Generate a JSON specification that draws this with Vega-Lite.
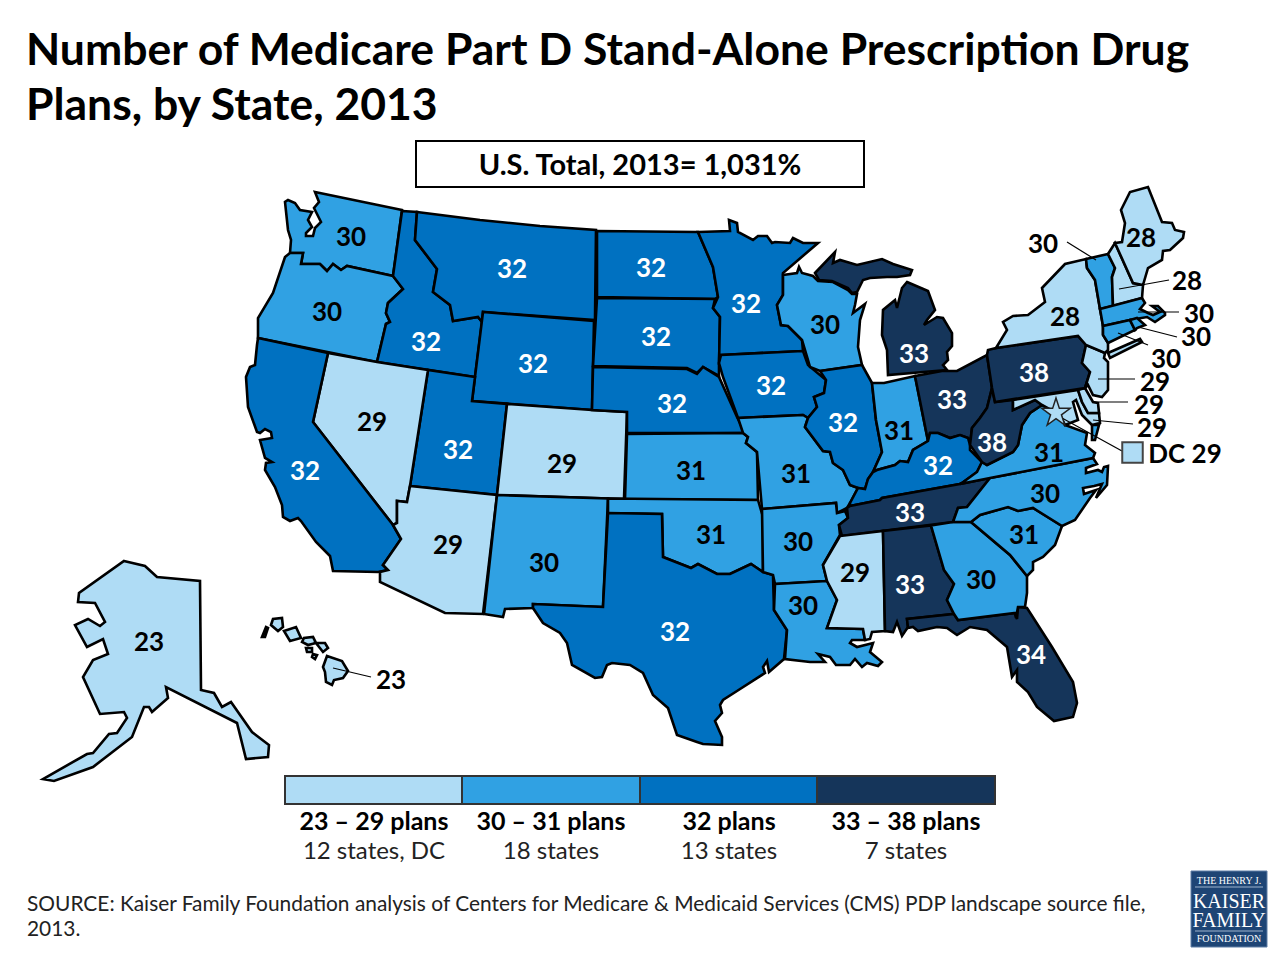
{"$schema":"https://vega.github.io/schema/vega-lite/v6.json","width":1280,"height":820,"padding":{"left":0,"right":0,"top":140,"bottom":0},"autosize":"none","background":"white",
"config":{"view":{"stroke":null}},
"title":{"text":["Number of Medicare Part D Stand-Alone Prescription Drug","Plans, by State, 2013"],"anchor":"start","frame":"group","dx":26,"offset":11,"fontSize":44.5,"font":"Lato","fontWeight":"bold","color":"#000000","lineHeight":55},
"resolve":{"scale":{"color":"independent"}},
"datasets":{
"states":[
{"type":"Feature","properties":{"state":"WA","group":"30 – 31 plans"},"geometry":{"type":"Polygon","coordinates":[[[315,192],[402,210],[393,276],[347,266],[341,270],[333,264],[327,271],[320,264],[301,264],[303,253],[290,253],[291,240],[288,230],[285,202],[288,200],[295,203],[300,210],[312,212],[308,220],[312,227],[306,233],[306,236],[313,236],[315,228],[321,222],[314,208],[319,202],[315,192]]]}},
{"type":"Feature","properties":{"state":"OR","group":"30 – 31 plans"},"geometry":{"type":"Polygon","coordinates":[[[290,253],[303,253],[301,264],[320,264],[327,271],[333,264],[341,270],[347,266],[393,276],[403,289],[388,303],[386,313],[390,322],[386,324],[377,362],[258,338],[258,318],[273,293],[285,257],[290,253]]]}},
{"type":"Feature","properties":{"state":"ID","group":"32 plans"},"geometry":{"type":"Polygon","coordinates":[[[402,211],[417,212],[415,240],[437,269],[433,292],[450,305],[453,321],[478,317],[482,322],[475,377],[377,362],[386,324],[390,322],[386,313],[388,303],[403,289],[393,276],[402,211]]]}},
{"type":"Feature","properties":{"state":"MT","group":"32 plans"},"geometry":{"type":"Polygon","coordinates":[[[417,212],[480,220],[540,226],[596,230],[595,320],[483,312],[482,322],[478,317],[453,321],[450,305],[433,292],[437,269],[415,240],[417,212]]]}},
{"type":"Feature","properties":{"state":"WY","group":"32 plans"},"geometry":{"type":"Polygon","coordinates":[[[483,312],[594,321],[592,410],[472,401],[483,312]]]}},
{"type":"Feature","properties":{"state":"UT","group":"32 plans"},"geometry":{"type":"Polygon","coordinates":[[[428,370],[475,377],[472,401],[507,404],[497,495],[410,486],[428,370]]]}},
{"type":"Feature","properties":{"state":"NV","group":"23 – 29 plans"},"geometry":{"type":"Polygon","coordinates":[[[328,353],[377,362],[428,370],[410,486],[407,502],[397,501],[397,523],[393,525],[313,422],[328,353]]]}},
{"type":"Feature","properties":{"state":"CA","group":"32 plans"},"geometry":{"type":"Polygon","coordinates":[[[258,338],[328,353],[313,422],[393,525],[401,539],[383,565],[388,570],[378,572],[333,571],[330,556],[316,542],[301,521],[298,518],[290,521],[283,517],[282,505],[275,487],[265,470],[266,463],[272,462],[265,458],[260,440],[272,438],[271,432],[265,429],[260,433],[257,432],[248,407],[246,377],[250,367],[255,365],[257,345],[258,338]]]}},
{"type":"Feature","properties":{"state":"AZ","group":"23 – 29 plans"},"geometry":{"type":"Polygon","coordinates":[[[410,486],[497,495],[483,614],[445,613],[380,582],[380,572],[388,570],[383,565],[401,539],[393,525],[397,523],[397,501],[407,502],[410,486]]]}},
{"type":"Feature","properties":{"state":"CO","group":"23 – 29 plans"},"geometry":{"type":"Polygon","coordinates":[[[507,404],[592,410],[627,412],[624,499],[497,495],[507,404]]]}},
{"type":"Feature","properties":{"state":"NM","group":"30 – 31 plans"},"geometry":{"type":"Polygon","coordinates":[[[497,495],[608,498.5],[603,607],[533,604],[533,608],[505,609],[503,617],[484,614],[497,495]]]}},
{"type":"Feature","properties":{"state":"ND","group":"32 plans"},"geometry":{"type":"Polygon","coordinates":[[[597,231],[698,232],[713,267],[718,297],[715,299],[597,297],[597,231]]]}},
{"type":"Feature","properties":{"state":"SD","group":"32 plans"},"geometry":{"type":"Polygon","coordinates":[[[597,298],[715,299],[713,308],[720,317],[719,365],[719,376],[703,367],[697,373],[687,368],[593,366],[597,298]]]}},
{"type":"Feature","properties":{"state":"NE","group":"32 plans"},"geometry":{"type":"Polygon","coordinates":[[[593,367],[687,369],[697,374],[703,367],[719,377],[737,417],[745,433],[627,433],[627,412],[592,410],[593,367]]]}},
{"type":"Feature","properties":{"state":"KS","group":"30 – 31 plans"},"geometry":{"type":"Polygon","coordinates":[[[627,434],[743,433],[748,437],[746,443],[757,452],[758,500],[625,499],[627,434]]]}},
{"type":"Feature","properties":{"state":"OK","group":"30 – 31 plans"},"geometry":{"type":"Polygon","coordinates":[[[608,498.5],[758,500],[763,517],[763,572],[751,564],[730,574],[717,574],[698,564],[691,568],[663,557],[662,514],[608,513],[608,498.5]]]}},
{"type":"Feature","properties":{"state":"TX","group":"32 plans"},"geometry":{"type":"Polygon","coordinates":[[[608,513],[662,514],[663,557],[691,568],[698,564],[717,574],[730,574],[751,564],[763,572],[773,575],[774,610],[787,630],[784,659],[769,672],[767,661],[763,667],[765,673],[737,691],[723,700],[720,705],[722,713],[715,721],[722,737],[722,745],[703,744],[697,742],[677,735],[668,708],[653,695],[643,673],[630,665],[612,663],[607,665],[602,677],[595,678],[572,665],[567,643],[560,633],[543,623],[533,608],[533,604],[603,607],[608,513]]]}},
{"type":"Feature","properties":{"state":"MN","group":"32 plans"},"geometry":{"type":"Polygon","coordinates":[[[698,232],[730,231],[729,220],[737,223],[738,232],[753,240],[758,236],[767,236],[772,243],[775,242],[790,243],[793,238],[803,243],[818,243],[783,273],[783,295],[777,305],[781,325],[788,326],[802,340],[803,351],[721,355],[719,365],[720,317],[713,308],[718,297],[713,267],[698,232]]]}},
{"type":"Feature","properties":{"state":"IA","group":"32 plans"},"geometry":{"type":"Polygon","coordinates":[[[721,355],[803,351],[808,365],[826,380],[824,393],[814,397],[817,407],[808,418],[803,415],[738,418],[723,377],[719,363],[721,355]]]}},
{"type":"Feature","properties":{"state":"MO","group":"30 – 31 plans"},"geometry":{"type":"Polygon","coordinates":[[[738,418],[803,415],[808,418],[805,427],[823,451],[830,452],[833,463],[843,470],[850,485],[858,488],[850,503],[847,508],[837,513],[836,503],[762,509],[757,452],[746,443],[748,437],[743,433],[738,418]]]}},
{"type":"Feature","properties":{"state":"AR","group":"30 – 31 plans"},"geometry":{"type":"Polygon","coordinates":[[[762,509],[836,503],[837,513],[845,511],[848,518],[839,525],[840,535],[823,565],[827,581],[775,584],[773,575],[763,572],[762,509]]]}},
{"type":"Feature","properties":{"state":"LA","group":"30 – 31 plans"},"geometry":{"type":"Polygon","coordinates":[[[775,584],[827,581],[837,600],[827,628],[863,629],[865,640],[852,640],[850,643],[857,647],[873,643],[870,652],[882,662],[878,666],[867,663],[862,667],[855,659],[850,665],[836,665],[830,657],[818,654],[825,662],[810,662],[785,659],[787,630],[774,610],[775,584]]]}},
{"type":"Feature","properties":{"state":"WI","group":"30 – 31 plans"},"geometry":{"type":"Polygon","coordinates":[[[783,275],[797,273],[799,267],[802,273],[813,276],[818,281],[833,282],[848,290],[852,294],[857,294],[855,305],[853,313],[865,304],[860,320],[858,347],[862,365],[820,371],[810,367],[808,360],[802,340],[788,326],[781,325],[777,305],[783,295],[783,275]]]}},
{"type":"Feature","properties":{"state":"IL","group":"32 plans"},"geometry":{"type":"Polygon","coordinates":[[[820,371],[862,365],[872,383],[876,420],[882,452],[873,472],[868,479],[865,489],[858,488],[850,485],[843,470],[833,463],[830,452],[823,451],[805,427],[808,418],[817,407],[814,397],[824,393],[826,380],[820,371]]]}},
{"type":"Feature","properties":{"state":"IN","group":"30 – 31 plans"},"geometry":{"type":"Polygon","coordinates":[[[872,383],[884,383],[915,376],[928,441],[913,450],[908,462],[900,461],[895,465],[877,470],[873,472],[882,452],[876,420],[872,383]]]}},
{"type":"Feature","properties":{"state":"OH","group":"33 – 38 plans"},"geometry":{"type":"Polygon","coordinates":[[[915,376],[942,371],[957,371],[987,355],[992,388],[989,400],[987,408],[980,418],[972,428],[970,445],[968,438],[960,435],[950,438],[938,433],[930,433],[928,441],[915,376]]]}},
{"type":"Feature","properties":{"state":"MI","group":"33 – 38 plans"},"geometry":{"type":"MultiPolygon","coordinates":[[[[907,282],[928,291],[935,310],[927,320],[924,325],[937,317],[943,318],[952,333],[952,346],[947,352],[948,360],[943,365],[947,370],[888,375],[887,350],[882,335],[883,310],[895,300],[897,308],[902,288],[907,282]]],[[[815,273],[835,252],[833,263],[840,260],[857,265],[882,259],[893,264],[912,270],[910,275],[897,277],[887,277],[870,278],[863,280],[857,292],[852,293],[848,288],[832,281],[819,280],[815,273]]]]}},
{"type":"Feature","properties":{"state":"KY","group":"32 plans"},"geometry":{"type":"Polygon","coordinates":[[[850,503],[858,488],[865,489],[868,479],[873,472],[877,470],[895,465],[900,461],[908,462],[913,450],[928,441],[930,433],[938,433],[950,438],[960,435],[968,438],[970,445],[970,450],[982,462],[977,472],[962,483],[960,484],[882,498],[880,500],[850,506],[850,503]]]}},
{"type":"Feature","properties":{"state":"TN","group":"33 – 38 plans"},"geometry":{"type":"Polygon","coordinates":[[[850,506],[880,500],[882,498],[960,484],[990,478],[967,507],[958,508],[953,522],[842,536],[839,525],[848,518],[847,508],[850,506]]]}},
{"type":"Feature","properties":{"state":"MS","group":"23 – 29 plans"},"geometry":{"type":"Polygon","coordinates":[[[840,536],[883,531],[885,631],[872,632],[870,639],[865,640],[863,629],[827,628],[837,600],[827,581],[823,565],[840,536]]]}},
{"type":"Feature","properties":{"state":"AL","group":"33 – 38 plans"},"geometry":{"type":"Polygon","coordinates":[[[883,531],[931,525.5],[944,570],[954,584],[947,600],[954,614],[907,619],[908,627],[902,636],[897,622],[893,632],[885,631],[883,531]]]}},
{"type":"Feature","properties":{"state":"FL","group":"33 – 38 plans"},"geometry":{"type":"Polygon","coordinates":[[[907,619],[954,614],[958,620],[1015,613],[1017,619],[1018,607],[1027,608],[1052,647],[1073,682],[1077,703],[1073,717],[1054,721],[1037,707],[1028,692],[1017,682],[1017,670],[1012,677],[1007,647],[987,630],[970,627],[957,635],[947,628],[937,627],[918,631],[913,627],[908,628],[907,619]]]}},
{"type":"Feature","properties":{"state":"GA","group":"30 – 31 plans"},"geometry":{"type":"Polygon","coordinates":[[[931,525.5],[953,522],[971,522],[1010,555],[1027,576],[1027,593],[1025,607],[1018,607],[1016,618],[1015,613],[958,620],[954,614],[947,600],[954,584],[944,570],[931,525.5]]]}},
{"type":"Feature","properties":{"state":"SC","group":"30 – 31 plans"},"geometry":{"type":"Polygon","coordinates":[[[971,522],[980,515],[1008,507],[1018,511],[1033,508],[1062,526],[1055,545],[1043,557],[1033,562],[1033,570],[1027,576],[1010,555],[971,522]]]}},
{"type":"Feature","properties":{"state":"NC","group":"30 – 31 plans"},"geometry":{"type":"Polygon","coordinates":[[[953,522],[958,508],[967,507],[990,478],[1093,458],[1097,464],[1086,468],[1086,473],[1098,470],[1102,472],[1104,467],[1108,466],[1107,485],[1096,498],[1102,484],[1094,486],[1083,488],[1084,494],[1096,490],[1090,498],[1075,520],[1062,526],[1033,508],[1018,511],[1008,507],[980,515],[971,522],[953,522]]]}},
{"type":"Feature","properties":{"state":"VA","group":"30 – 31 plans"},"geometry":{"type":"MultiPolygon","coordinates":[[[[960,484],[962,483],[977,472],[982,462],[987,465],[1013,452],[1018,445],[1022,425],[1030,413],[1042,405],[1060,415],[1065,425],[1087,433],[1085,445],[1095,453],[1093,458],[990,478],[960,484]]],[[[1092,425],[1099,425],[1095,440],[1092,440],[1092,425]]]]}},
{"type":"Feature","properties":{"state":"WV","group":"33 – 38 plans"},"geometry":{"type":"Polygon","coordinates":[[[992,388],[995,402],[1013,400],[1013,410],[1035,400],[1042,405],[1030,413],[1022,425],[1018,445],[1013,452],[987,465],[982,462],[970,445],[972,428],[980,418],[987,408],[989,400],[992,388]]]}},
{"type":"Feature","properties":{"state":"MD","group":"23 – 29 plans"},"geometry":{"type":"Polygon","coordinates":[[[1013,400],[1078,390],[1082,402],[1088,413],[1099,413],[1100,423],[1092,425],[1082,415],[1076,400],[1073,402],[1078,420],[1065,425],[1060,415],[1042,405],[1035,400],[1013,410],[1013,400]]]}},
{"type":"Feature","properties":{"state":"DE","group":"23 – 29 plans"},"geometry":{"type":"Polygon","coordinates":[[[1078,390],[1085,388],[1093,402],[1098,403],[1099,413],[1088,413],[1082,402],[1078,390]]]}},
{"type":"Feature","properties":{"state":"PA","group":"33 – 38 plans"},"geometry":{"type":"Polygon","coordinates":[[[987,355],[988,350],[996,348],[1078,336],[1086,345],[1082,363],[1090,372],[1085,388],[995,402],[992,388],[987,355]]]}},
{"type":"Feature","properties":{"state":"NJ","group":"23 – 29 plans"},"geometry":{"type":"Polygon","coordinates":[[[1086,345],[1105,353],[1104,358],[1108,362],[1108,390],[1102,397],[1093,395],[1088,385],[1085,388],[1090,372],[1082,363],[1086,345]]]}},
{"type":"Feature","properties":{"state":"NY","group":"23 – 29 plans"},"geometry":{"type":"MultiPolygon","coordinates":[[[[996,348],[1007,330],[1003,322],[1013,316],[1028,315],[1045,302],[1042,288],[1065,264],[1086,259],[1087,268],[1095,280],[1100,309],[1103,326],[1103,335],[1108,343],[1108,350],[1105,353],[1086,345],[1078,336],[996,348]]],[[[1108,353],[1140,339],[1142,342],[1110,358],[1108,353]]]]}},
{"type":"Feature","properties":{"state":"VT","group":"30 – 31 plans"},"geometry":{"type":"Polygon","coordinates":[[[1086,259],[1108,254],[1115,268],[1112,277],[1113,306],[1100,309],[1095,280],[1087,268],[1086,259]]]}},
{"type":"Feature","properties":{"state":"NH","group":"23 – 29 plans"},"geometry":{"type":"Polygon","coordinates":[[[1108,254],[1115,243],[1133,283],[1143,285],[1142,298],[1113,306],[1112,277],[1115,268],[1108,254]]]}},
{"type":"Feature","properties":{"state":"ME","group":"23 – 29 plans"},"geometry":{"type":"Polygon","coordinates":[[[1115,243],[1122,242],[1125,223],[1121,210],[1130,192],[1148,187],[1162,222],[1172,223],[1175,230],[1184,232],[1183,238],[1170,250],[1163,251],[1162,260],[1148,268],[1143,285],[1133,283],[1115,243]]]}},
{"type":"Feature","properties":{"state":"MA","group":"30 – 31 plans"},"geometry":{"type":"Polygon","coordinates":[[[1100,309],[1142,298],[1145,303],[1140,309],[1148,313],[1153,315],[1160,312],[1152,306],[1158,306],[1165,313],[1165,315],[1155,322],[1147,317],[1130,320],[1103,326],[1100,309]]]}},
{"type":"Feature","properties":{"state":"CT","group":"30 – 31 plans"},"geometry":{"type":"Polygon","coordinates":[[[1103,326],[1130,320],[1135,330],[1108,343],[1103,335],[1103,326]]]}},
{"type":"Feature","properties":{"state":"RI","group":"30 – 31 plans"},"geometry":{"type":"Polygon","coordinates":[[[1130,320],[1137,318],[1145,325],[1137,328],[1135,330],[1130,320]]]}},
{"type":"Feature","properties":{"state":"AK","group":"23 – 29 plans"},"geometry":{"type":"Polygon","coordinates":[[[124,561],[145,566],[157,577],[200,581],[201,690],[214,693],[222,707],[231,702],[252,732],[269,745],[268,757],[246,759],[237,723],[166,687],[168,698],[152,712],[149,707],[144,707],[132,737],[93,767],[54,781],[43,779],[87,754],[93,753],[109,734],[117,733],[127,718],[124,712],[100,714],[83,677],[93,660],[108,654],[103,639],[87,647],[75,625],[88,619],[100,626],[105,622],[95,603],[78,602],[79,593],[124,561]]]}},
{"type":"Feature","properties":{"state":"HI","group":"23 – 29 plans"},"geometry":{"type":"MultiPolygon","coordinates":[[[[262,637],[266,627],[268,628],[265,637],[262,637]]],[[[271,625],[273,619],[282,618],[283,627],[278,631],[271,625]]],[[[284,631],[296,627],[301,638],[290,641],[284,631]]],[[[302,642],[304,638],[313,637],[316,643],[308,645],[302,642]]],[[[316,643],[325,643],[328,648],[323,652],[316,643]]],[[[306,648],[312,648],[312,652],[307,652],[306,648]]],[[[313,654],[317,655],[315,659],[312,657],[313,654]]],[[[327,656],[342,661],[348,671],[343,678],[334,680],[332,685],[326,682],[325,672],[323,667],[327,656]]]]}}
],
"legendBar":[
{"type":"Feature","properties":{"group":"23 – 29 plans"},"geometry":{"type":"Polygon","coordinates":[[[285,776],[462,776],[462,804],[285,804],[285,776]]]}},
{"type":"Feature","properties":{"group":"30 – 31 plans"},"geometry":{"type":"Polygon","coordinates":[[[462,776],[640,776],[640,804],[462,804],[462,776]]]}},
{"type":"Feature","properties":{"group":"32 plans"},"geometry":{"type":"Polygon","coordinates":[[[640,776],[817,776],[817,804],[640,804],[640,776]]]}},
{"type":"Feature","properties":{"group":"33 – 38 plans"},"geometry":{"type":"Polygon","coordinates":[[[817,776],[995,776],[995,804],[817,804],[817,776]]]}}
],
"leaders":[
{"type":"Feature","properties":{"state":"VT"},"geometry":{"type":"LineString","coordinates":[[1067,242],[1096,260]]}},
{"type":"Feature","properties":{"state":"NH"},"geometry":{"type":"LineString","coordinates":[[1169,280],[1119,289]]}},
{"type":"Feature","properties":{"state":"MA"},"geometry":{"type":"LineString","coordinates":[[1179,312],[1138,312]]}},
{"type":"Feature","properties":{"state":"RI"},"geometry":{"type":"LineString","coordinates":[[1177,337],[1138,327]]}},
{"type":"Feature","properties":{"state":"CT"},"geometry":{"type":"LineString","coordinates":[[1148,345],[1118,333]]}},
{"type":"Feature","properties":{"state":"NJ"},"geometry":{"type":"LineString","coordinates":[[1135,379],[1098,379]]}},
{"type":"Feature","properties":{"state":"DE"},"geometry":{"type":"LineString","coordinates":[[1128,402],[1092,402]]}},
{"type":"Feature","properties":{"state":"MD"},"geometry":{"type":"LineString","coordinates":[[1133,424],[1093,420]]}},
{"type":"Feature","properties":{"state":"DC"},"geometry":{"type":"LineString","coordinates":[[1122,451],[1062,418]]}},
{"type":"Feature","properties":{"state":"HI"},"geometry":{"type":"LineString","coordinates":[[371,677],[333,668]]}}
],
"labels":[
{"state":"WA","plans":"30","group":"30 – 31 plans","lon":351,"lat":236},{"state":"OR","plans":"30","group":"30 – 31 plans","lon":327,"lat":311},{"state":"ID","plans":"32","group":"32 plans","lon":426,"lat":341},{"state":"MT","plans":"32","group":"32 plans","lon":512,"lat":268},{"state":"ND","plans":"32","group":"32 plans","lon":651,"lat":267},{"state":"MN","plans":"32","group":"32 plans","lon":746,"lat":303},{"state":"WI","plans":"30","group":"30 – 31 plans","lon":825,"lat":324},{"state":"WY","plans":"32","group":"32 plans","lon":533,"lat":363},{"state":"SD","plans":"32","group":"32 plans","lon":656,"lat":336},{"state":"NE","plans":"32","group":"32 plans","lon":672,"lat":403},{"state":"IA","plans":"32","group":"32 plans","lon":771,"lat":385},{"state":"IL","plans":"32","group":"32 plans","lon":843,"lat":422},{"state":"IN","plans":"31","group":"30 – 31 plans","lon":899,"lat":430},{"state":"OH","plans":"33","group":"33 – 38 plans","lon":952,"lat":399},{"state":"MI","plans":"33","group":"33 – 38 plans","lon":914,"lat":353},{"state":"PA","plans":"38","group":"33 – 38 plans","lon":1034,"lat":372},{"state":"WV","plans":"38","group":"33 – 38 plans","lon":992,"lat":442},{"state":"VA","plans":"31","group":"30 – 31 plans","lon":1049,"lat":452},{"state":"NC","plans":"30","group":"30 – 31 plans","lon":1045,"lat":493},{"state":"SC","plans":"31","group":"30 – 31 plans","lon":1024,"lat":534},{"state":"GA","plans":"30","group":"30 – 31 plans","lon":981,"lat":579},{"state":"FL","plans":"34","group":"33 – 38 plans","lon":1031,"lat":654},{"state":"AL","plans":"33","group":"33 – 38 plans","lon":910,"lat":584},{"state":"MS","plans":"29","group":"23 – 29 plans","lon":855,"lat":572},{"state":"TN","plans":"33","group":"33 – 38 plans","lon":910,"lat":512},{"state":"KY","plans":"32","group":"32 plans","lon":938,"lat":465},{"state":"MO","plans":"31","group":"30 – 31 plans","lon":796,"lat":473},{"state":"AR","plans":"30","group":"30 – 31 plans","lon":798,"lat":541},{"state":"LA","plans":"30","group":"30 – 31 plans","lon":803,"lat":605},{"state":"TX","plans":"32","group":"32 plans","lon":675,"lat":631},{"state":"OK","plans":"31","group":"30 – 31 plans","lon":711,"lat":534},{"state":"KS","plans":"31","group":"30 – 31 plans","lon":691,"lat":470},{"state":"NM","plans":"30","group":"30 – 31 plans","lon":544,"lat":562},{"state":"CO","plans":"29","group":"23 – 29 plans","lon":562,"lat":463},{"state":"AZ","plans":"29","group":"23 – 29 plans","lon":448,"lat":544},{"state":"UT","plans":"32","group":"32 plans","lon":458,"lat":449},{"state":"NV","plans":"29","group":"23 – 29 plans","lon":372,"lat":421},{"state":"CA","plans":"32","group":"32 plans","lon":305,"lat":470},{"state":"AK","plans":"23","group":"23 – 29 plans","lon":149,"lat":641},{"state":"HI","plans":"23","group":"23 – 29 plans","lon":391,"lat":679},{"state":"NY","plans":"28","group":"23 – 29 plans","lon":1065,"lat":316},{"state":"ME","plans":"28","group":"23 – 29 plans","lon":1141,"lat":237},{"state":"NH","plans":"28","group":"23 – 29 plans","lon":1187,"lat":280},{"state":"VT","plans":"30","group":"30 – 31 plans","lon":1043,"lat":243},{"state":"MA","plans":"30","group":"30 – 31 plans","lon":1199,"lat":313},{"state":"RI","plans":"30","group":"30 – 31 plans","lon":1196,"lat":336},{"state":"CT","plans":"30","group":"30 – 31 plans","lon":1166,"lat":358},{"state":"NJ","plans":"29","group":"23 – 29 plans","lon":1155,"lat":381},{"state":"DE","plans":"29","group":"23 – 29 plans","lon":1149,"lat":404},{"state":"MD","plans":"29","group":"23 – 29 plans","lon":1152,"lat":427},{"state":"DC","plans":"DC 29","group":"23 – 29 plans","lon":1185,"lat":453}
],
"legendLabels":[
{"plans":"23 – 29 plans","count":"12 states, DC","lon":374,"lat1":822,"lat2":852},{"plans":"30 – 31 plans","count":"18 states","lon":551,"lat1":822,"lat2":852},{"plans":"32 plans","count":"13 states","lon":729,"lat1":822,"lat2":852},{"plans":"33 – 38 plans","count":"7 states","lon":906,"lat1":822,"lat2":852}
]
},
"encoding":{},
"layer":[
{"data":{"name":"states"},"projection":{"type":"identity","scale":1,"translate":[0,-140]},"mark":{"type":"geoshape","stroke":"#000000","strokeWidth":2.6,"strokeJoin":"miter"},"encoding":{"color":{"field":"properties.group","type":"nominal","legend":null,"scale":{"domain":["23 – 29 plans","30 – 31 plans","32 plans","33 – 38 plans"],"range":["#AFDCF5","#30A1E3","#0071C1","#15355A"]}}}},
{"data":{"name":"legendBar"},"projection":{"type":"identity","scale":1,"translate":[0,-140]},"mark":{"type":"geoshape","stroke":"#333333","strokeWidth":2},"encoding":{"color":{"field":"properties.group","type":"nominal","legend":null,"scale":{"domain":["23 – 29 plans","30 – 31 plans","32 plans","33 – 38 plans"],"range":["#AFDCF5","#30A1E3","#0071C1","#15355A"]}}}},
{"data":{"name":"leaders"},"projection":{"type":"identity","scale":1,"translate":[0,-140]},"mark":{"type":"geoshape","filled":false,"stroke":"#000000","strokeWidth":1.2},"encoding":{}},
{"data":{"values":[{"type":"Feature","properties":{"name":"total box"},"geometry":{"type":"Polygon","coordinates":[[[416,141],[864,141],[864,187],[416,187],[416,141]]]}}]},"projection":{"type":"identity","scale":1,"translate":[0,-140]},"mark":{"type":"geoshape","filled":false,"stroke":"#000000","strokeWidth":2},"encoding":{}},
{"data":{"values":[{"type":"Feature","properties":{"name":"logo"},"geometry":{"type":"Polygon","coordinates":[[[1191,871],[1267,871],[1267,947],[1191,947],[1191,871]]]}}]},"projection":{"type":"identity","scale":1,"translate":[0,-140]},"mark":{"type":"geoshape","fill":"#1E4575","stroke":"#5F7FA6","strokeWidth":1},"encoding":{}},
{"data":{"values":[{"type":"Feature","properties":{"name":"logo rule"},"geometry":{"type":"LineString","coordinates":[[1195,887],[1263,887]]}},{"type":"Feature","properties":{"name":"logo rule"},"geometry":{"type":"LineString","coordinates":[[1195,931],[1263,931]]}}]},"projection":{"type":"identity","scale":1,"translate":[0,-140]},"mark":{"type":"geoshape","filled":false,"stroke":"#9DB4CE","strokeWidth":1},"encoding":{}},
{"data":{"values":[{"state":"DC","lon":1056,"lat":413}]},"mark":{"type":"point","shape":"M0,-1L0.2245,-0.309L0.951,-0.309L0.363,0.118L0.588,0.809L0,0.382L-0.588,0.809L-0.363,0.118L-0.951,-0.309L-0.2245,-0.309Z","filled":true,"fill":"#AFDCF5","stroke":"#222222","strokeWidth":1.5,"size":900,"opacity":1},"encoding":{"x":{"field":"lon","type":"quantitative","axis":null,"scale":{"domain":[0,1280],"range":[0,1280],"nice":false,"zero":false}},"y":{"field":"lat","type":"quantitative","axis":null,"scale":{"domain":[0,960],"range":[-140,820],"nice":false,"zero":false}}}},
{"data":{"values":[{"state":"DC","lon":1132.5,"lat":452.5}]},"mark":{"type":"point","shape":"square","filled":true,"fill":"#AFDCF5","stroke":"#444444","strokeWidth":2,"size":420,"opacity":1},"encoding":{"x":{"field":"lon","type":"quantitative","axis":null},"y":{"field":"lat","type":"quantitative","axis":null}}},
{"data":{"name":"labels"},"mark":{"type":"text","font":"Lato","fontWeight":"bold","fontSize":26,"align":"center","baseline":"middle","dy":2},"encoding":{"x":{"field":"lon","type":"quantitative","axis":null},"y":{"field":"lat","type":"quantitative","axis":null},"text":{"field":"plans"},"color":{"field":"group","type":"nominal","legend":null,"scale":{"domain":["23 – 29 plans","30 – 31 plans","32 plans","33 – 38 plans"],"range":["#000000","#000000","#FFFFFF","#FFFFFF"]}}}},
{"data":{"values":[{"text":"U.S. Total, 2013= 1,031%","lon":640,"lat":166}]},"mark":{"type":"text","font":"Lato","fontWeight":"bold","fontSize":29,"align":"center","baseline":"middle","color":"#000000"},"encoding":{"x":{"field":"lon","type":"quantitative","axis":null},"y":{"field":"lat","type":"quantitative","axis":null},"text":{"field":"text"}}},
{"data":{"name":"legendLabels"},"mark":{"type":"text","font":"Lato","fontWeight":"bold","fontSize":25,"align":"center","baseline":"middle","color":"#000000"},"encoding":{"x":{"field":"lon","type":"quantitative","axis":null},"y":{"field":"lat1","type":"quantitative","axis":null},"text":{"field":"plans"}}},
{"data":{"name":"legendLabels"},"mark":{"type":"text","font":"Lato","fontSize":24,"align":"center","baseline":"middle","color":"#222222"},"encoding":{"x":{"field":"lon","type":"quantitative","axis":null},"y":{"field":"lat2","type":"quantitative","axis":null},"text":{"field":"count"}}},
{"data":{"values":[{"text":"SOURCE: Kaiser Family Foundation analysis of Centers for Medicare & Medicaid Services (CMS) PDP landscape source file,","lon":27,"lat":905},{"text":"2013.","lon":27,"lat":930}]},"mark":{"type":"text","font":"Lato","fontSize":20.9,"align":"left","baseline":"middle","color":"#222222"},"encoding":{"x":{"field":"lon","type":"quantitative","axis":null},"y":{"field":"lat","type":"quantitative","axis":null},"text":{"field":"text"}}},
{"data":{"values":[{"text":"THE HENRY J.","lon":1229,"lat":880.5}]},"mark":{"type":"text","font":"Liberation Serif","fontSize":10,"align":"center","baseline":"middle","color":"#FFFFFF"},"encoding":{"x":{"field":"lon","type":"quantitative","axis":null},"y":{"field":"lat","type":"quantitative","axis":null},"text":{"field":"text"}}},
{"data":{"values":[{"text":"KAISER","lon":1229,"lat":902},{"text":"FAMILY","lon":1229,"lat":921}]},"mark":{"type":"text","font":"Liberation Serif","fontSize":20,"align":"center","baseline":"middle","color":"#FFFFFF"},"encoding":{"x":{"field":"lon","type":"quantitative","axis":null},"y":{"field":"lat","type":"quantitative","axis":null},"text":{"field":"text"}}},
{"data":{"values":[{"text":"FOUNDATION","lon":1229,"lat":939}]},"mark":{"type":"text","font":"Liberation Serif","fontSize":10,"align":"center","baseline":"middle","color":"#FFFFFF"},"encoding":{"x":{"field":"lon","type":"quantitative","axis":null},"y":{"field":"lat","type":"quantitative","axis":null},"text":{"field":"text"}}}
]}
